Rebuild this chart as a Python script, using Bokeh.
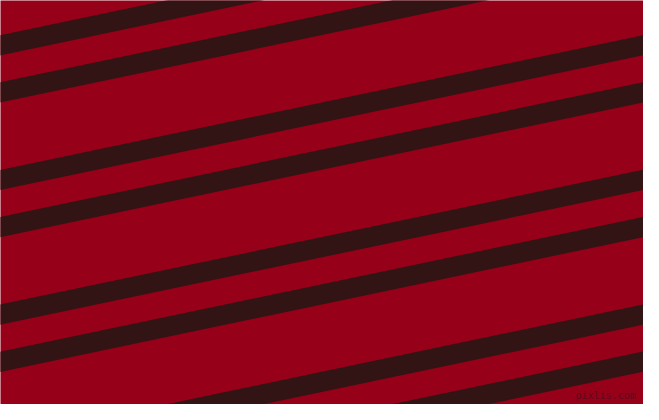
from bokeh.plotting import figure
from bokeh.models import Range1d
from bokeh.core.properties import value
from bokeh.embed import file_html
from bokeh.resources import INLINE

# Pattern data (image pixel coordinates of the 659x420 picture, y measured downward)
image_width, image_height = 659, 420
stripe_centers_at_left = [46.5, 95.5, 186.5, 235.5, 326.5, 375.5, 466.5, 515.5]
stripe_slope = 0.2126          # rise per pixel (12 degrees)
stripe_thickness = 21.0        # vertical thickness in px
background_color = "#960018"
stripe_color = "#321414"
watermark = ["pixlis.com"]

W, H = 643, 404
p = figure(width=W, height=H, output_backend="svg", toolbar_location=None,
           x_range=Range1d(0, image_width), y_range=Range1d(image_height, 0),
           min_border=0)
p.axis.visible = False
p.grid.visible = False
p.outline_line_color = None
p.background_fill_color = background_color
p.border_fill_color = background_color

x0, x1 = -60, 740
h = stripe_thickness / 2
xs, ys = [], []
for c in stripe_centers_at_left:
    xs.append([x0, x1, x1, x0])
    ys.append([c - h - stripe_slope * x0, c - h - stripe_slope * x1,
               c + h - stripe_slope * x1, c + h - stripe_slope * x0])
p.patches(xs=xs, ys=ys, fill_color=stripe_color, line_color=None)

p.text(x=[651], y=[416], text=watermark, text_align="right", text_baseline="bottom",
       text_font=value("DejaVu Sans Mono"), text_font_size="10px",
       text_color="#5e0a1c")

open("out.html", "w").write(file_html(p, INLINE))
